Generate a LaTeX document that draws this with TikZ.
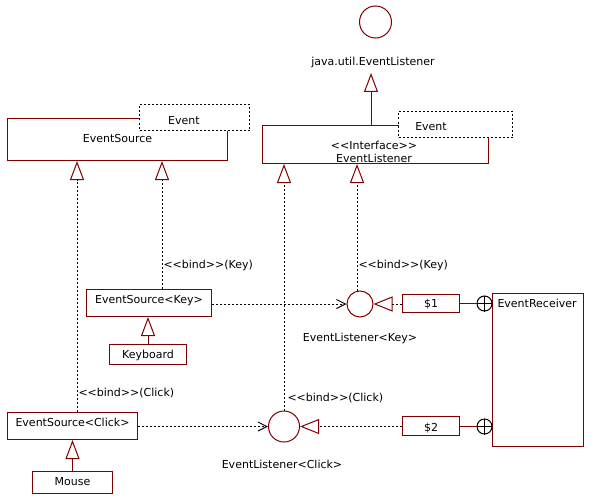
\documentclass[tikz,border=0pt]{standalone}
\usepackage{fontspec}
\newfontfamily\uifont{DejaVu Sans}
\usetikzlibrary{arrows.meta}
\definecolor{dr}{RGB}{128,0,0}
\begin{document}
\begin{tikzpicture}[x=1pt,y=-1pt,line width=1pt,
  font=\uifont\fontsize{11}{13}\selectfont,
  box/.style={draw=dr,fill=white,rectangle,anchor=north west,inner xsep=0pt,inner ysep=0pt},
  tbox/.style={draw=black,fill=white,rectangle,anchor=north west,inner sep=0pt,dash pattern=on 2pt off 2pt},
  txt/.style={inner sep=0pt,text height=8pt,text depth=0pt},
  ring/.style={draw=dr,circle,inner sep=0pt},
  cplus/.style={draw=black,circle,inner sep=0pt,minimum size=15pt},
  dep/.style={draw=black,dash pattern=on 2pt off 2pt,-{Triangle[open,length=19pt,width=14pt,color=dr]}},
  gensolid/.style={draw=dr,-{Triangle[open,length=19pt,width=14pt,color=dr]}},
  real/.style={draw=black,dash pattern=on 2pt off 2pt,-{Triangle[open,length=19pt,width=15pt,color=dr]}},
  usearrow/.style={draw=black,dash pattern=on 2pt off 2pt,-{Straight Barb[length=9pt,width=9pt,color=black]}},
  assoc/.style={draw=dr}]
\useasboundingbox (0,0) rectangle (593,500);

% helper x positions
\coordinate (x77) at (77,0);
\coordinate (x162) at (162,0);
\coordinate (x148) at (148,0);
\coordinate (x371) at (371,0);
\coordinate (x357) at (357,0);

% top interface java.util.EventListener
\node[ring,minimum size=32pt] (jcirc) at (375.5,22) {};
\node[txt] (jtext) at (373,62) {java.util.EventListener};
\coordinate (javatip) at (371,73);

% EventSource
\node[box,minimum width=220pt,text height=24pt,text depth=18pt] (es) at (7,118) {EventSource};
\node[tbox,minimum width=110pt,minimum height=26pt] (ev1) at (139,104) {};
\node[txt] (ev1t) at (184,120) {Event};

% EventListener interface
\node[box,minimum width=226pt,minimum height=38pt] (iface) at (262,125) {};
\node[txt] (ifs) at (374,145) {<<Interface>>};
\node[txt] (ifn) at (374,158) {EventListener};
\node[tbox,minimum width=114pt,minimum height=26pt] (ev2) at (398,111) {};
\node[txt] (ev2t) at (431,126) {Event};

% sources
\node[box,minimum width=125pt,text height=14pt,text depth=13pt] (esk) at (86,289) {EventSource<Key>};
\node[box,minimum width=77pt,text height=14pt,text depth=6pt] (kb) at (109,344) {Keyboard};
\node[box,minimum width=130pt,text height=14pt,text depth=13pt] (esc) at (7,412) {EventSource<Click>};
\node[box,minimum width=80pt,text height=14pt,text depth=8pt] (mouse) at (32,471) {Mouse};

% listeners
\node[ring,minimum size=26pt] (key) at (360,304) {};
\node[ring,minimum size=31pt] (clk) at (284,426.5) {};
\node[txt] (keyl) at (360,337) {EventListener<Key>};
\node[txt] (clkl) at (282,464) {EventListener<Click>};

% inner classes
\node[box,minimum width=57pt,text height=13pt,text depth=5pt] (d1) at (402,294) {\$1};
\node[box,minimum width=57pt,text height=14.5pt,text depth=4.5pt] (d2) at (402,416) {\$2};

% receiver
\node[box,minimum width=91pt,minimum height=153pt] (recv) at (492,293) {};
\node[txt,anchor=west] (recvt) at (497,303) {EventReceiver};
\node[cplus] (cp1) at (484.5,303.5) {};
\node[cplus] (cp2) at (484.5,426.5) {};
\draw (cp1.north) -- (cp1.south) (cp1.west) -- (cp1.east);
\draw (cp2.north) -- (cp2.south) (cp2.west) -- (cp2.east);

% connectors
\draw[gensolid] (iface.north -| x371) -- (javatip);
\draw[dep] (esc.north -| x77) -- (es.south -| x77);
\draw[dep] (esk.north -| x162) -- (es.south -| x162);
\draw[gensolid] (kb.north -| x148) -- (esk.south -| x148);
\draw[gensolid] (mouse.north) -- (esc.south);
\draw[dep] (clk.north) -- (iface.south -| clk.north);
\draw[dep] (key.north -| x357) -- (iface.south -| x357);
\draw[usearrow] (esk.east |- key) -- (key.west);
\draw[usearrow] (esc.east |- clk) -- (clk.west);
\draw[real] (d1.west |- key) -- (key.east);
\draw[real] (d2.west |- clk) -- (clk.east);
\draw[assoc] (d1.east |- cp1) -- (cp1.west);
\draw[assoc] (d2.east |- cp2) -- (cp2.west);

% labels
\node[txt,anchor=west] (b1) at (163,264) {<<bind>>(Key)};
\node[txt,anchor=west] (b2) at (358,264) {<<bind>>(Key)};
\node[txt,anchor=west] (b3) at (78,392) {<<bind>>(Click)};
\node[txt,anchor=west] (b4) at (287,397) {<<bind>>(Click)};
\end{tikzpicture}
\end{document}
